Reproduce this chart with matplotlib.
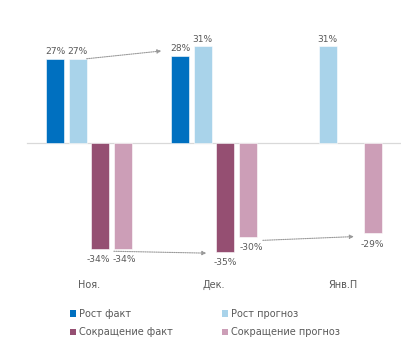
import matplotlib
matplotlib.use("Agg")
import matplotlib.pyplot as plt
from matplotlib.patches import Patch
import numpy as np

categories = ["Ноя.", "Дек.", "Янв.П"]
series_names = ["Рост факт", "Рост прогноз", "Сокращение факт", "Сокращение прогноз"]
rost_fakt = [27, 28, None]
rost_prognoz = [27, 31, 31]
sokr_fakt = [-34, -35, None]
sokr_prognoz = [-34, -30, -29]
colors = ["#0070C0", "#A9D3EA", "#954F72", "#CC9EB7"]

W, H = 402, 353
fig = plt.figure(figsize=(W / 100, H / 100), dpi=100)
ax = fig.add_axes([0, 0, 1, 1])

px_per_cat = 125.0
x0_px = 89.0
ax.set_xlim((0 - x0_px) / px_per_cat, (W - x0_px) / px_per_cat)
zero_px = 143.0
ppp = 3.12
ax.set_ylim(-(H - zero_px) / ppp, zero_px / ppp)
ax.axis("off")

d = 0.18
bw = 0.142
offsets = [-1.5 * d, -0.5 * d, 0.5 * d, 1.5 * d]
all_series = [rost_fakt, rost_prognoz, sokr_fakt, sokr_prognoz]
txt_color = "#595959"
fs = 7
lfs = 6.6

for si, (vals, off, col) in enumerate(zip(all_series, offsets, colors)):
    for ci, v in enumerate(vals):
        if v is None:
            continue
        x = ci + off
        ax.bar(x, v, width=bw, color=col, edgecolor="white", linewidth=0.4, zorder=2)
        if v >= 0:
            ax.text(x, v + 0.8, f"{v}%", ha="center", va="bottom", fontsize=lfs, color=txt_color)
        else:
            dx = 0.03 if (si == 3 and ci == 1) else (-0.015 if (si == 2 and ci == 0) else (0.015 if (si == 3 and ci == 0) else 0))
            ax.text(x + dx, v - 2.0, f"{v}%", ha="center", va="top",
                    fontsize=lfs, color=txt_color)

ax.plot([(27 - x0_px) / px_per_cat, (W - x0_px) / px_per_cat], [0, 0], color="#D9D9D9", lw=0.9, zorder=1)

for ci, c in enumerate(categories):
    ax.text(ci + (0.03 if ci == 2 else 0), -(285 - zero_px) / ppp, c, ha="center", va="center",
            fontsize=fs, color=txt_color)

arrow_kw = dict(arrowstyle="-|>", color="#999999", lw=0.8, linestyle=(0, (1, 1)),
                mutation_scale=6, shrinkA=0, shrinkB=0)
ax.annotate("", xy=(1 + offsets[0] - bw / 2 - 0.08, 29.5), xytext=(0 + offsets[1] + bw / 2, 27),
            arrowprops=arrow_kw)
ax.annotate("", xy=(1 + offsets[2] - bw / 2 - 0.08, -35.3), xytext=(0 + offsets[3] - bw / 2, -34.7),
            arrowprops=arrow_kw)
ax.annotate("", xy=(2 + offsets[3] - bw / 2 - 0.08, -30.0), xytext=(1 + offsets[3] + bw / 2 + 0.05, -31.2),
            arrowprops=arrow_kw)

handles = [Patch(facecolor=c, edgecolor="none") for c in colors]
order = [0, 2, 1, 3]
leg = fig.legend([handles[i] for i in order], [series_names[i] for i in order],
                 ncol=2, loc="upper left", bbox_to_anchor=(70 / W, 1 - 309 / H),
                 frameon=False, fontsize=fs, handlelength=0.6, handleheight=0.6,
                 handletextpad=0.35, columnspacing=5.05, labelspacing=0.85,
                 borderpad=0, borderaxespad=0)
for t in leg.get_texts():
    t.set_color(txt_color)

fig.savefig("out.png", dpi=100)
